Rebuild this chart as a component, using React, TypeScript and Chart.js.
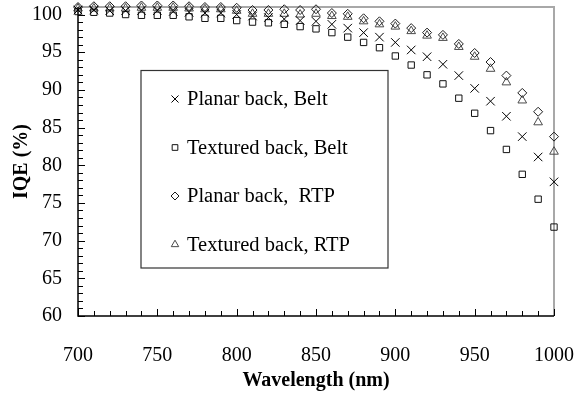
import React, { useEffect, useRef } from 'react';
import { Chart, registerables } from 'chart.js';

Chart.register(...registerables);

const wavelengths = [
  700, 710, 720, 730, 740, 750, 760, 770, 780, 790, 800, 810, 820, 830, 840, 850,
  860, 870, 880, 890, 900, 910, 920, 930, 940, 950, 960, 970, 980, 990, 1000,
];

const planarBelt = [
  100.6, 100.6, 100.5, 100.5, 100.5, 100.5, 100.4, 100.3, 100.2, 100.2, 100.0, 99.8, 99.6, 99.4, 99.2, 99.1,
  98.7, 98.2, 97.6, 97.0, 96.3, 95.3, 94.4, 93.4, 91.9, 90.2, 88.5, 86.5, 83.8, 81.1, 77.8,
];

const texturedBelt = [
  100.4, 100.3, 100.2, 100.0, 99.9, 99.9, 99.9, 99.7, 99.5, 99.5, 99.2, 99.0, 98.9, 98.7, 98.4, 98.1,
  97.6, 97.0, 96.3, 95.6, 94.5, 93.3, 92.0, 90.8, 88.9, 86.9, 84.6, 82.1, 78.8, 75.5, 71.8,
];

const planarRTP = [
  101.0, 101.1, 101.1, 101.1, 101.2, 101.2, 101.2, 101.1, 101.0, 101.0, 100.9, 100.6, 100.6, 100.7, 100.6, 100.7,
  100.2, 100.1, 99.5, 99.1, 98.8, 98.2, 97.6, 97.3, 96.1, 94.9, 93.7, 91.9, 89.6, 87.1, 83.8,
];

const texturedRTP = [
  100.8, 100.8, 100.8, 100.8, 100.9, 100.9, 100.9, 100.8, 100.7, 100.7, 100.5, 100.1, 100.1, 100.1, 100.0, 100.1,
  99.8, 99.7, 99.1, 98.7, 98.4, 97.8, 97.2, 96.9, 95.7, 94.4, 92.8, 91.0, 88.6, 85.7, 81.8,
];

const seriesLabels = ['Planar back, Belt', 'Textured back, Belt', 'Planar back,  RTP', 'Textured back, RTP'];
const seriesValues = [planarBelt, texturedBelt, planarRTP, texturedRTP];
const seriesStyles = ['crossRot', 'rect', 'rectRot', 'triangle'];
const seriesColors = ['#000000', '#111111', '#1a1a1a', '#4a4a4a'];
const seriesRadius = [6, 4.5, 4.5, 5];
const legendRadius = [5, 4, 4, 4.3];

const xTickValues = [700, 750, 800, 850, 900, 950, 1000];
const yTickValues = [60, 65, 70, 75, 80, 85, 90, 95, 100];

const FONT = "'Liberation Serif', 'Times New Roman', serif";

function drawMarker(ctx: CanvasRenderingContext2D, style: string, x: number, y: number, r: number) {
  ctx.beginPath();
  if (style === 'crossRot') {
    const d = r * Math.SQRT1_2;
    ctx.moveTo(x - d, y - d);
    ctx.lineTo(x + d, y + d);
    ctx.moveTo(x + d, y - d);
    ctx.lineTo(x - d, y + d);
  } else if (style === 'rect') {
    const s = r * Math.SQRT1_2;
    ctx.rect(x - s, y - s, 2 * s, 2 * s);
  } else if (style === 'rectRot') {
    ctx.moveTo(x, y - r);
    ctx.lineTo(x + r, y);
    ctx.lineTo(x, y + r);
    ctx.lineTo(x - r, y);
    ctx.closePath();
  } else {
    for (let i = 0; i < 3; i++) {
      const a = (i * 2 * Math.PI) / 3;
      const px = x + Math.sin(a) * r;
      const py = y - Math.cos(a) * r;
      if (i === 0) ctx.moveTo(px, py);
      else ctx.lineTo(px, py);
    }
    ctx.closePath();
  }
  ctx.stroke();
}

const framePlugin = {
  id: 'frame',
  beforeDatasetsDraw(chart: any) {
    const { ctx, chartArea } = chart;
    const { left, right, top, bottom } = chartArea;
    const xs = chart.scales.x;
    const ys = chart.scales.y;
    ctx.save();
    ctx.strokeStyle = '#a8a8a8';
    ctx.lineWidth = 2;
    ctx.beginPath();
    ctx.moveTo(left, top);
    ctx.lineTo(right, top);
    ctx.lineTo(right, bottom);
    ctx.stroke();

    ctx.strokeStyle = '#000';
    ctx.lineWidth = 1.5;
    ctx.beginPath();
    ctx.moveTo(left, top);
    ctx.lineTo(left, bottom);
    ctx.lineTo(right, bottom);
    ctx.stroke();

    ctx.lineWidth = 1;
    ctx.beginPath();
    for (let v = yTickValues[0]; v <= yTickValues[yTickValues.length - 1]; v += 1) {
      const py = Math.round(ys.getPixelForValue(v)) + 0.5;
      const len = v % 5 === 0 ? 7 : 5;
      ctx.moveTo(left, py);
      ctx.lineTo(left + len, py);
    }
    for (let v = xTickValues[0]; v <= xTickValues[xTickValues.length - 1]; v += 10) {
      const px = Math.round(xs.getPixelForValue(v)) + 0.5;
      const len = v % 50 === 0 ? 7 : 5;
      ctx.moveTo(px, bottom);
      ctx.lineTo(px, bottom - len);
    }
    ctx.stroke();
    ctx.restore();
  },
};

const legendPlugin = {
  id: 'boxLegend',
  afterDatasetsDraw(chart: any) {
    const { ctx } = chart;
    ctx.save();
    ctx.fillStyle = '#ffffff';
    ctx.fillRect(141, 70.5, 247, 197.5);
    ctx.strokeStyle = '#333';
    ctx.lineWidth = 1.2;
    ctx.strokeRect(141, 70.5, 247, 197.5);
    ctx.font = `20.5px ${FONT}`;
    ctx.textBaseline = 'middle';
    ctx.textAlign = 'left';
    chart.data.datasets.forEach((ds: any, i: number) => {
      const cy = 99 + i * 48.5;
      ctx.strokeStyle = ds.borderColor;
      ctx.lineWidth = 1;
      drawMarker(ctx, ds.pointStyle, 175, cy, legendRadius[i]);
      ctx.fillStyle = '#000';
      ctx.fillText(ds.label, 187, cy + 1);
    });
    ctx.restore();
  },
};

export default function App() {
  const canvasRef = useRef<HTMLCanvasElement | null>(null);

  useEffect(() => {
    document.body.style.margin = '0';
    const canvas = canvasRef.current;
    if (!canvas) return;

    const datasets = seriesLabels.map((label, i) => ({
      label,
      data: wavelengths.map((w, j) => ({ x: w, y: seriesValues[i][j] })),
      pointStyle: seriesStyles[i],
      pointRadius: seriesRadius[i],
      pointHoverRadius: seriesRadius[i],
      borderColor: seriesColors[i],
      backgroundColor: 'rgba(0,0,0,0)',
      pointBorderWidth: 1,
      borderWidth: 1,
      showLine: false,
      clip: false as any,
    }));

    const chart = new Chart(canvas, {
      type: 'scatter',
      data: { datasets },
      options: {
        animation: false,
        responsive: false,
        devicePixelRatio: 1,
        layout: { padding: { left: 0, right: 33, top: 7, bottom: 0 } },
        plugins: {
          legend: { display: false },
          tooltip: { enabled: false },
        },
        scales: {
          x: {
            type: 'linear',
            min: 700,
            max: 1000,
            afterFit: (scale: any) => {
              scale.height = 85;
              scale.paddingLeft = 0;
              scale.paddingRight = 0;
            },
            afterBuildTicks: (scale: any) => {
              scale.ticks = xTickValues.map((v) => ({ value: v }));
            },
            grid: { display: false, drawTicks: false },
            border: { display: false },
            ticks: {
              padding: 28,
              color: '#000',
              font: { family: FONT, size: 20 },
              maxRotation: 0,
              autoSkip: false,
              callback: (v: any) => String(v),
            },
            title: {
              display: true,
              text: 'Wavelength (nm)',
              color: '#000',
              font: { family: FONT, size: 20, weight: 'bold' },
              padding: { top: 0, bottom: 8 },
            },
          },
          y: {
            type: 'linear',
            min: 60,
            max: 101,
            afterFit: (scale: any) => {
              scale.width = 78;
              scale.paddingTop = 0;
              scale.paddingBottom = 0;
            },
            afterBuildTicks: (scale: any) => {
              scale.ticks = yTickValues.map((v) => ({ value: v }));
            },
            grid: { display: false, drawTicks: false },
            border: { display: false },
            ticks: {
              padding: 16,
              color: '#000',
              font: { family: FONT, size: 20 },
              autoSkip: false,
              callback: (v: any) => String(v),
            },
            title: {
              display: true,
              text: 'IQE (%)',
              color: '#000',
              font: { family: FONT, size: 20, weight: 'bold' },
              padding: { top: 10, bottom: 0 },
            },
          },
        },
      } as any,
      plugins: [framePlugin, legendPlugin],
    });

    return () => {
      chart.destroy();
    };
  }, []);

  return (
    <div style={{ width: 587, height: 401, background: '#fff' }}>
      <canvas ref={canvasRef} width={587} height={401} style={{ display: 'block' }} />
    </div>
  );
}
